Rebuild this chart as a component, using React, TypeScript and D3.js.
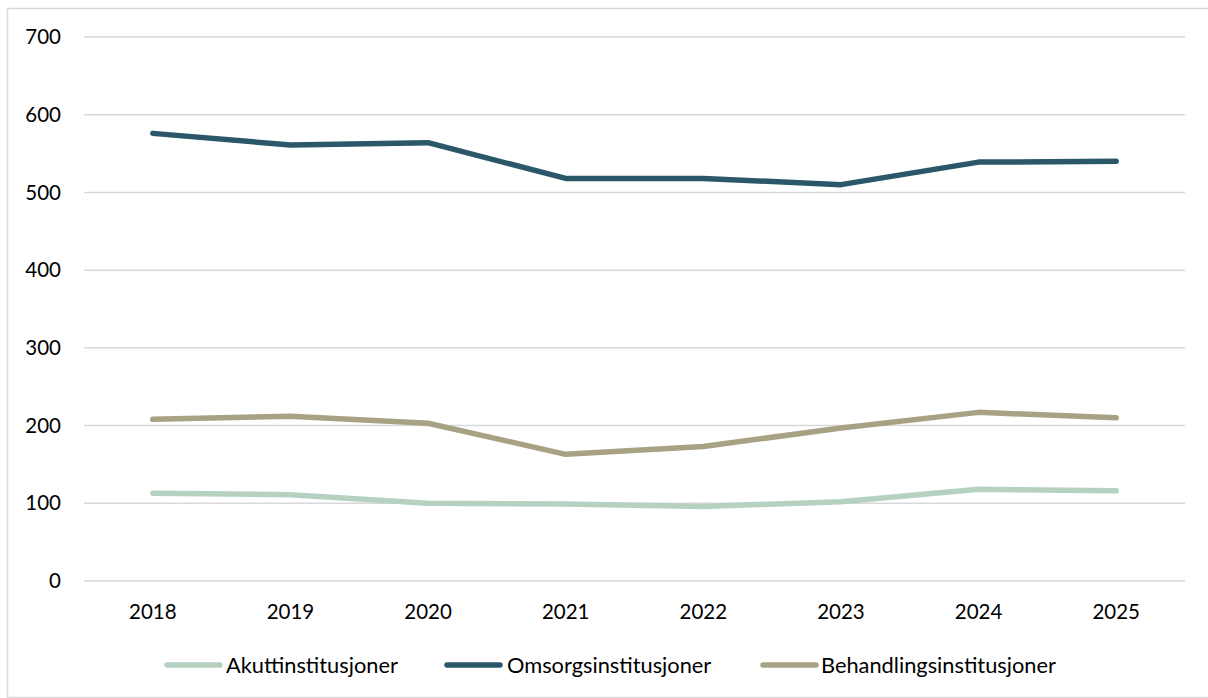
import React from "react";
import * as d3 from "d3";

const years = ["2018", "2019", "2020", "2021", "2022", "2023", "2024", "2025"];
const akutt = [113, 111, 100, 99, 96, 102, 118, 116];
const omsorg = [576, 561, 564, 518, 518, 510, 539, 540];
const behandling = [208, 212, 203, 163, 173, 197, 217, 210];
const yTicks = [0, 100, 200, 300, 400, 500, 600, 700];

const seriesNames = ["Akuttinstitusjoner", "Omsorgsinstitusjoner", "Behandlingsinstitusjoner"];
const seriesColors = ["#b5d1c1", "#2b5869", "#a8a285"];
const seriesValues = [akutt, omsorg, behandling];

const W = 1208;
const H = 698;
const left = 84;
const right = 1185;
const top = 37;
const bottom = 581;
const font = "Lato, 'Open Sans', sans-serif";

export default function App() {
  const x = d3.scaleBand<string>().domain(years).range([left, right]);
  const y = d3.scaleLinear().domain([0, 700]).range([bottom, top]);
  const line = d3
    .line<number>()
    .x((_, i) => (x(years[i]) as number) + x.bandwidth() / 2)
    .y((d) => y(d));

  const legendItems = [
    { lx: 167, tx: 226 },
    { lx: 447, tx: 507 },
    { lx: 763, tx: 821 },
  ];

  return (
    <svg
      width={W}
      height={H}
      style={{ position: "absolute", left: 0, top: 0, background: "#fff" }}
      fontFamily={font}
    >
      <rect x={7.5} y={8.5} width={W + 10} height={H - 9} fill="#fff" stroke="#d9d9d9" strokeWidth={1.5} />
      {yTicks.map((t) => (
        <g key={t}>
          <line x1={left} x2={right} y1={y(t)} y2={y(t)} stroke="#d9d9d9" strokeWidth={1.5} />
          <text x={61} y={y(t)} dy="0.35em" textAnchor="end" fontSize={20.5} fill="#000">
            {t}
          </text>
        </g>
      ))}
      {years.map((yr) => (
        <text
          key={yr}
          x={(x(yr) as number) + x.bandwidth() / 2}
          y={612}
          dy="0.35em"
          textAnchor="middle"
          fontSize={20.5}
          fill="#000"
        >
          {yr}
        </text>
      ))}
      {seriesValues.map((vals, i) => (
        <path
          key={seriesNames[i]}
          d={line(vals) as string}
          fill="none"
          stroke={seriesColors[i]}
          strokeWidth={5.5}
          strokeLinecap="round"
          strokeLinejoin="round"
        />
      ))}
      {seriesNames.map((name, i) => (
        <g key={name}>
          <line
            x1={legendItems[i].lx}
            x2={legendItems[i].lx + 53}
            y1={665}
            y2={665}
            stroke={seriesColors[i]}
            strokeWidth={5.5}
            strokeLinecap="round"
          />
          <text x={legendItems[i].tx} y={665} dy="0.35em" fontSize={21.8} fill="#000">
            {name}
          </text>
        </g>
      ))}
    </svg>
  );
}
